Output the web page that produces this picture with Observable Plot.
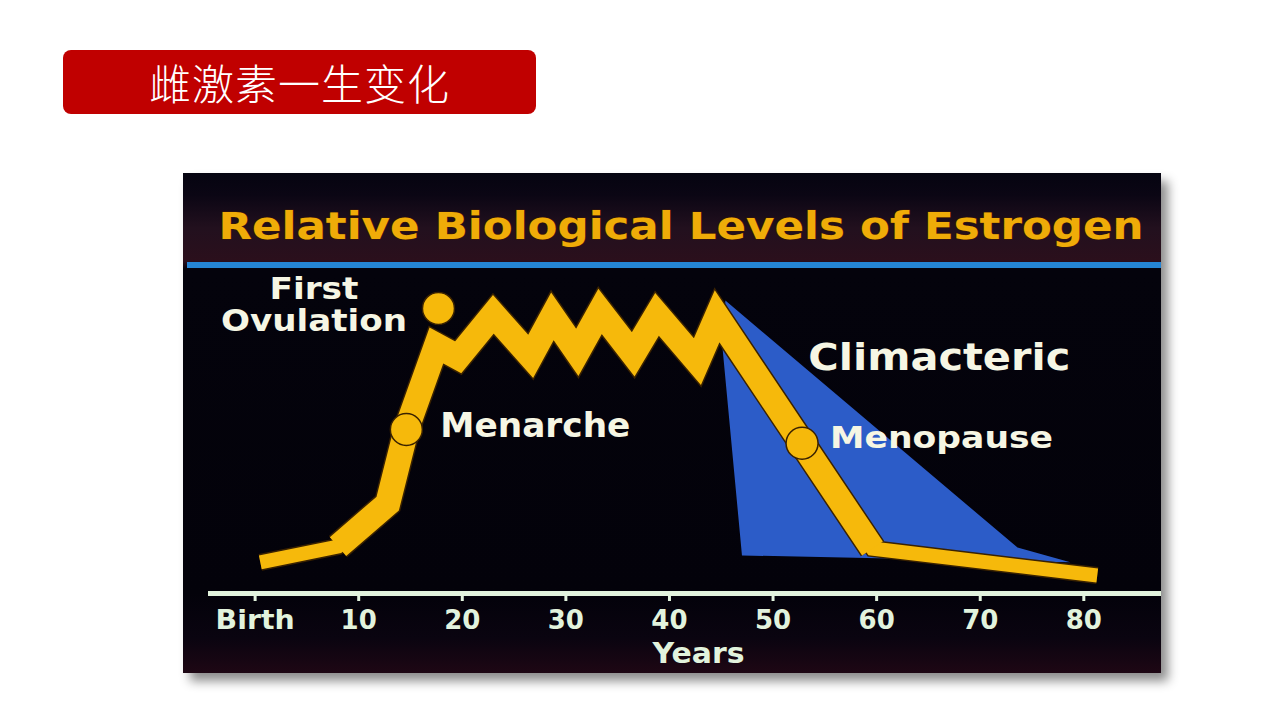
<!DOCTYPE html>
<html>
<head>
<meta charset="utf-8">
<script src="https://cdn.jsdelivr.net/npm/d3@7"></script>
<script src="https://cdn.jsdelivr.net/npm/@observablehq/plot@0.6"></script>
<style>
  html, body { margin: 0; padding: 0; background: #ffffff; width: 1280px; height: 720px; overflow: hidden; }
  #slideTitle {
    position: absolute; left: 63px; top: 50px; width: 473px; height: 64px;
    background: #c00000; border-radius: 8px; color: #ffffff;
    font-family: "Noto Sans CJK SC", sans-serif; font-weight: 300; font-size: 42px;
    line-height: 64px; text-align: center; letter-spacing: 1px;
  }
  #panel {
    position: absolute; left: 183px; top: 173px; width: 978px; height: 500px; overflow: hidden;
    background: linear-gradient(to bottom, #050410 0px, #0b0614 22px, #22101e 55px, #2b0f1c 88px, #04030c 96px, #03020a 420px, #0a0410 465px, #1e0714 500px);
    box-shadow: 7px 8px 10px rgba(0,0,0,0.45);
  }
  #blueRule { position: absolute; left: 4px; right: 0; top: 89px; height: 6px; background: #2585d5; }
  #chart { position: absolute; left: 0; top: 0; }
</style>
</head>
<body>
<div id="slideTitle"></div>
<div id="panel"><div id="blueRule"></div><div id="chart"></div></div>
<script>
// ---- data ----
const slideTitle = "雌激素一生变化";
const chartTitle = "Relative Biological Levels of Estrogen";

// estrogen curve (age in years, relative level 0-100)
const ages   = [0.5, 8.0, 12.8, 14.6, 17.5, 19.6, 23.0, 26.6, 28.7, 31.1, 33.3, 36.5, 38.8, 42.7, 44.6, 59.6, 81.3];
const levels = [9.5, 14.3, 27.4, 50.0, 75.6, 72.0, 85.1, 72.3, 84.5, 73.5, 86.0, 72.9, 85.1, 70.7, 84.5, 13.7, 5.5];

// climacteric band (polygon)
const climAges   = [45.4, 73.6, 78.7, 47.0, 45.1];
const climLevels = [89.3, 14.0, 9.5, 11.6, 75.6];
const climName = "Climacteric";
const climLabelAge = 53.4;
const climLabelLevel = 71.7;

// life events
const eventNames  = ["First\nOvulation", "Menarche", "Menopause"];
const eventAges   = [17.7, 14.6, 52.8];
const eventLevels = [86.9, 50.0, 45.8];

// axis
const tickAges   = [0, 10, 20, 30, 40, 50, 60, 70, 80];
const tickLabels = ["Birth", "10", "20", "30", "40", "50", "60", "70", "80"];
const axisName = "Years";
const axisNameAge = 42.8;

// ---- build ----
document.getElementById("slideTitle").textContent = slideTitle;

const curve = ages.map((a, i) => ({age: a, level: levels[i]}));
const clim = climAges.map((a, i) => ({age: a, level: climLevels[i]}));
const events = eventNames.map((n, i) => ({name: n, age: eventAges[i], level: eventLevels[i]}));

const YELLOW = "#f6b90b";
const OUTLINE = "#3a2200";
const BLUE = "#2c5cc8";
const CREAM = "#f6f6e4";
const AXIS = "#e2f3dd";
const FONT = "DejaVu Sans";
const thick = (d, i) => i >= 1 && i <= 15;
const band = {x: "age", y: "level", strokeLinejoin: "miter", strokeMiterlimit: 10, strokeLinecap: "butt"};

const chart = Plot.plot({
  width: 978,
  height: 500,
  marginTop: 92,
  marginBottom: 80,
  marginLeft: 25,
  marginRight: 0,
  style: {background: "transparent", overflow: "visible", fontFamily: FONT},
  x: {domain: [-4.5, 87.5]},
  y: {domain: [0, 100], axis: null},
  marks: [
    Plot.line(clim, {x: "age", y: "level", curve: "linear-closed", fill: BLUE, stroke: "none"}),
    Plot.line(curve, {...band, stroke: OUTLINE, strokeWidth: 17}),
    Plot.line(curve, {...band, filter: thick, stroke: OUTLINE, strokeWidth: 28}),
    Plot.line(curve, {...band, stroke: YELLOW, strokeWidth: 14}),
    Plot.line(curve, {...band, filter: thick, stroke: YELLOW, strokeWidth: 25}),
    Plot.dot(events, {x: "age", y: "level", r: 16, fill: YELLOW, stroke: OUTLINE, strokeWidth: 1.5}),
    Plot.text(events.slice(0, 1), {x: "age", y: "level", text: "name", dx: -124.5, dy: -3.6, lineHeight: 1.07, lineAnchor: "middle", textAnchor: "middle", fontSize: 30, fontWeight: "bold", fill: CREAM}),
    Plot.text(events.slice(1, 2), {x: "age", y: "level", text: "name", dx: 34, dy: -2.6, lineAnchor: "middle", textAnchor: "start", fontSize: 33, fontWeight: "bold", fill: CREAM}),
    Plot.text(events.slice(2, 3), {x: "age", y: "level", text: "name", dx: 28, dy: -5, lineAnchor: "middle", textAnchor: "start", fontSize: 31, fontWeight: "bold", fill: CREAM}),
    Plot.text([climName], {x: () => climLabelAge, y: () => climLabelLevel, text: d => d, lineAnchor: "middle", textAnchor: "start", fontSize: 38, fontWeight: "bold", fill: CREAM}),
    Plot.text([chartTitle], {frameAnchor: "top", text: d => d, dx: -4, dy: -27, lineAnchor: "bottom", textAnchor: "middle", fontSize: 37, fontWeight: "bold", fill: "#efac08", stroke: "#3a1a05", strokeWidth: 1.2, paintOrder: "stroke"}),
    Plot.ruleY([0], {stroke: AXIS, strokeWidth: 5}),
    Plot.axisX(tickAges, {tickFormat: (d, i) => tickLabels[i], tickSize: 8, tickPadding: 9, strokeWidth: 3, stroke: AXIS, fill: AXIS, fontSize: 26, fontWeight: "bold", label: null}),
    Plot.text([axisName], {x: () => axisNameAge, frameAnchor: "bottom", text: d => d, dy: 60, lineAnchor: "middle", textAnchor: "middle", fontSize: 29, fontWeight: "bold", fill: AXIS})
  ]
});

// stretch the bold sans labels to the wide face of the original slide
const fitWidths = new Map([[chartTitle, 925], ["First", 89], ["Ovulation", 186], ["Menarche", 190], ["Menopause", 223], [climName, 262], [axisName, 92], ["Birth", 79]]);
chart.querySelectorAll("text, tspan").forEach(el => {
  if (el.children.length === 0 && fitWidths.has(el.textContent)) {
    el.setAttribute("textLength", fitWidths.get(el.textContent));
    el.setAttribute("lengthAdjust", "spacingAndGlyphs");
  }
});
document.getElementById("chart").appendChild(chart);
</script>
</body>
</html>
